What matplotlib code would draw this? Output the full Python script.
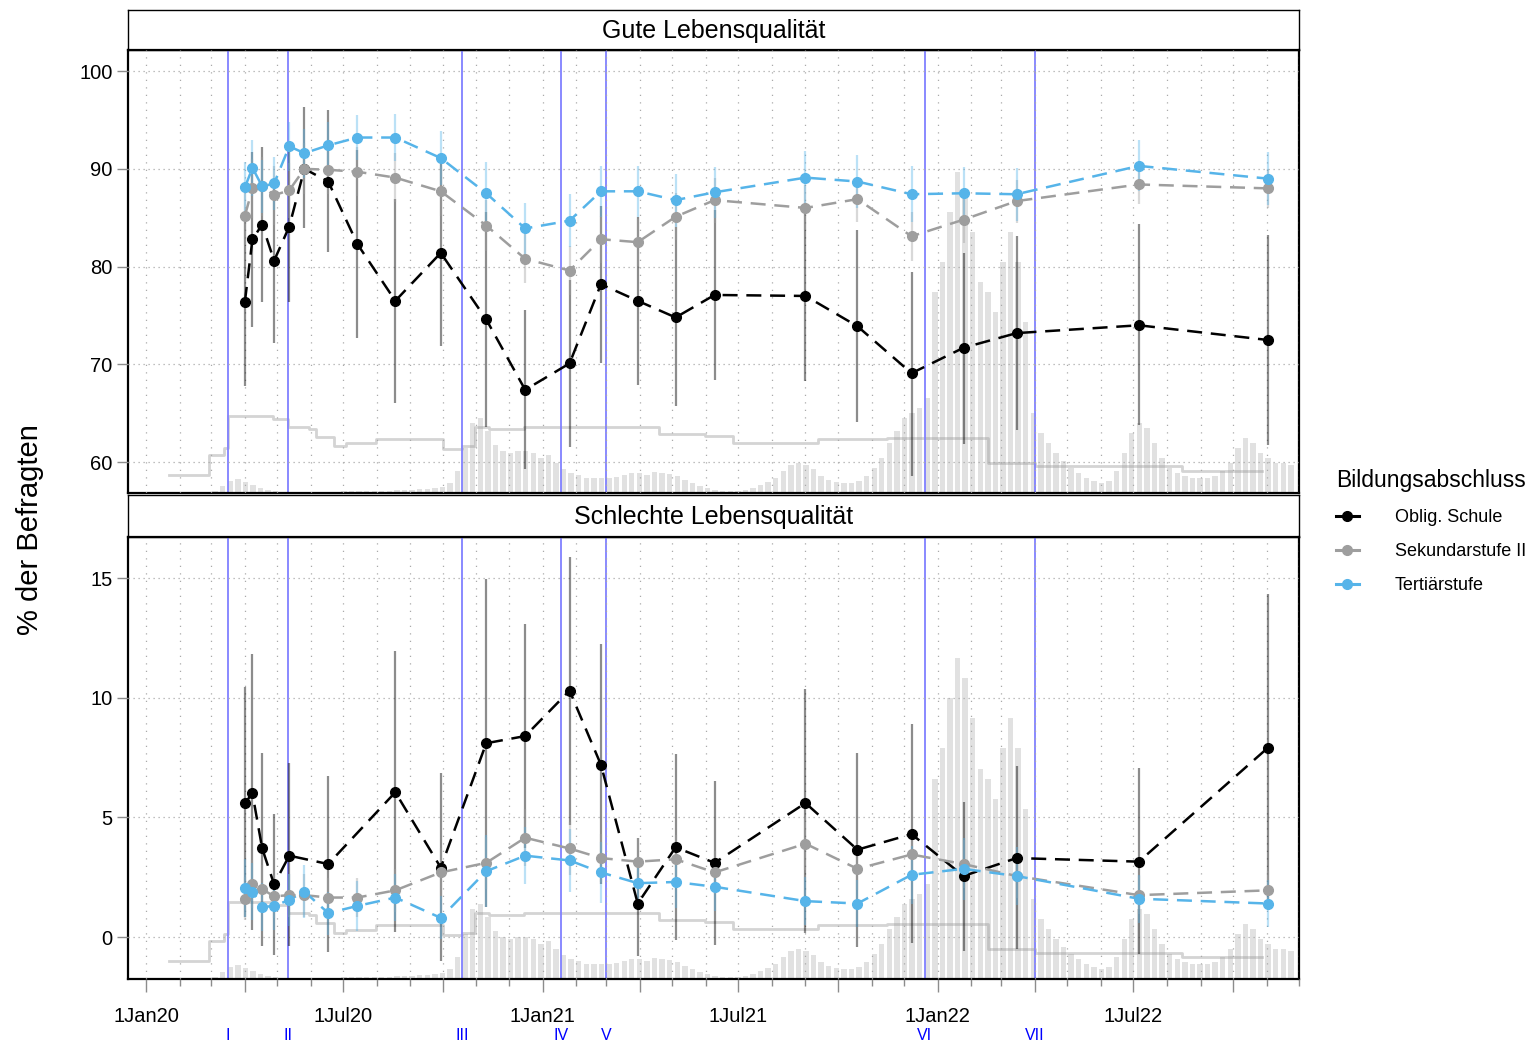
import numpy as np
import pandas as pd
import matplotlib
matplotlib.use('Agg')
import matplotlib.pyplot as plt
import matplotlib.dates as mdates
import matplotlib.transforms as mtransforms
from matplotlib.lines import Line2D
from matplotlib.legend_handler import HandlerLine2D

# Befragungszeitpunkte
termine = ['2020-04-01', '2020-04-08', '2020-04-17', '2020-04-28', '2020-05-12', '2020-05-26',
           '2020-06-17', '2020-07-14', '2020-08-18', '2020-09-29', '2020-11-10', '2020-12-16',
           '2021-01-26', '2021-02-24', '2021-03-30', '2021-05-04', '2021-06-09', '2021-09-01',
           '2021-10-19', '2021-12-08', '2022-01-25', '2022-03-15', '2022-07-06', '2022-11-02']

# Gute Lebensqualitaet (%)
gut_obl = [76.4, 82.8, 84.3, 80.6, 84.1, 90.0, 88.7, 82.3, 76.5, 81.4, 74.6, 67.4,
           70.1, 78.2, 76.5, 74.8, 77.1, 77.0, 73.9, 69.1, 71.7, 73.2, 74.0, 72.5]
gut_obl_lo = [67.8, 73.8, 76.4, 72.2, 76.4, 83.9, 81.5, 72.7, 66.1, 71.9, 63.6, 59.3,
              61.6, 70.1, 67.9, 65.7, 68.4, 68.3, 64.1, 58.6, 61.9, 63.3, 63.8, 61.8]
gut_obl_hi = [85.0, 91.7, 92.2, 89.0, 91.8, 96.3, 96.0, 91.9, 86.9, 90.9, 85.6, 75.6,
              78.6, 86.2, 85.1, 84.0, 85.8, 85.7, 83.7, 79.5, 81.4, 83.1, 84.4, 83.2]
gut_sek = [85.2, 88.0, 88.2, 87.3, 87.8, 90.0, 89.9, 89.7, 89.1, 87.7, 84.2, 80.8,
           79.6, 82.8, 82.5, 85.1, 86.8, 86.0, 86.9, 83.1, 84.8, 86.7, 88.4, 88.0]
gut_sek_err = [3.0, 3.0, 3.0, 3.0, 2.8, 2.6, 2.5, 2.5, 2.5, 2.5, 2.6, 2.5,
               2.5, 2.4, 2.4, 2.4, 2.3, 2.3, 2.3, 2.5, 2.4, 2.2, 2.0, 2.0]
gut_ter = [88.1, 90.1, 88.2, 88.5, 92.3, 91.6, 92.4, 93.2, 93.2, 91.1, 87.5, 83.9,
           84.7, 87.7, 87.7, 86.8, 87.6, 89.1, 88.7, 87.4, 87.5, 87.4, 90.3, 89.0]
gut_ter_err = [2.6, 2.85, 2.7, 2.7, 2.5, 2.5, 2.4, 2.3, 2.4, 2.8, 3.2, 2.6,
               2.7, 2.6, 2.6, 2.7, 2.6, 2.7, 2.7, 2.85, 2.7, 2.7, 2.6, 2.7]

# Schlechte Lebensqualitaet (%)
nan = np.nan
schlecht_obl = [5.6, 6.0, 3.7, 2.2, 3.4, nan, 3.05, nan, 6.05, 2.9, 8.1, 8.4,
                10.3, 7.2, 1.4, 3.75, 3.1, 5.6, 3.65, 4.3, 2.55, 3.3, 3.15, 7.9]
schlecht_obl_lo = [0.85, 0.29, -0.38, -0.75, -0.38, nan, -0.61, nan, 0.19, -1.0, 1.27, 3.7,
                   4.68, 2.2, -0.79, -0.13, -0.33, 0.18, -0.4, -0.24, -0.57, -0.52, -0.71, 1.4]
schlecht_obl_hi = [10.46, 11.81, 7.7, 5.13, 7.26, nan, 6.73, nan, 11.95, 6.84, 14.95, 13.07,
                   15.89, 12.23, 4.12, 7.65, 6.53, 10.35, 7.7, 8.89, 5.65, 7.15, 7.05, 14.33]
schlecht_sek = [1.6, 2.2, 2.0, 1.7, 1.75, 1.75, 1.65, 1.65, 1.95, 2.7, 3.1, 4.15,
                3.7, 3.3, 3.15, 3.25, 2.7, 3.9, 2.85, 3.45, 3.05, 2.55, 1.75, 1.95]
schlecht_sek_err = [0.9, 1.0, 1.0, 0.9, 0.9, 0.9, 0.8, 0.8, 0.9, 1.0, 1.1, 1.2,
                    1.1, 1.0, 1.0, 1.0, 0.9, 1.1, 0.9, 1.0, 1.0, 0.9, 0.8, 0.8]
schlecht_ter = [2.05, 1.9, 1.25, 1.3, 1.55, 1.9, 1.0, 1.3, 1.65, 0.8, 2.75, 3.4,
                3.2, 2.7, 2.25, 2.3, 2.1, 1.5, 1.4, 2.6, 2.85, 2.55, 1.6, 1.4]
schlecht_ter_err = [1.2, 1.2, 1.0, 1.0, 1.1, 1.1, 0.9, 1.05, 1.0, 0.9, 1.5, 1.2,
                    1.3, 1.27, 1.1, 1.1, 1.0, 1.0, 1.0, 1.2, 1.3, 1.2, 1.0, 1.0]

# Massnahmen-Phasen
phasen_daten = ['2020-03-16', '2020-05-11', '2020-10-19', '2021-01-18', '2021-03-01', '2021-12-20', '2022-04-01']
phasen_namen = ['I', 'II', 'III', 'IV', 'V', 'VI', 'VII']

# Stringency-Index (Stufen)
stringency_daten = ['2020-01-22', '2020-02-28', '2020-03-13', '2020-03-16', '2020-04-27', '2020-05-11',
                    '2020-05-30', '2020-06-06', '2020-06-22', '2020-07-03', '2020-07-31', '2020-10-01',
                    '2020-10-19', '2020-10-31', '2020-11-13', '2020-12-15', '2021-04-19', '2021-05-31',
                    '2021-06-26', '2021-09-13', '2021-11-15', '2022-02-17', '2022-04-01', '2022-08-15',
                    '2022-10-28']
stringency = [6.3, 28.6, 36.0, 71.9, 68.6, 58.9, 56.7, 47.8, 37.8, 41.1, 45.6, 34.7,
              37.8, 59.3, 57.1, 59.7, 51.9, 49.3, 41.3, 45.6, 46.9, 19.3, 15.6, 10.8, 10.8]

# Neue Faelle pro Tag (Hunderte, Wochenmittel)
faelle_2020 = [0.5, 2, 7, 12, 14, 11, 8, 5, 3, 2,
               1, 1, 0.5, 0.5, 0.5, 0.5, 0.5, 1,
               1.5, 1.5, 1.5, 1.5, 2, 2, 2, 2.5, 3, 3,
               3.5, 4, 4.5, 6, 10, 22, 45, 70, 75, 62, 48, 42, 40, 42, 42, 40, 35]
faelle_2021 = [38, 30, 24, 20, 18, 15, 15, 15, 15, 16, 18, 20, 20, 18, 21, 20, 19,
               17, 13, 10, 7, 5, 3, 2, 1.5, 2, 3, 5, 8, 11, 15, 22, 28, 30, 28,
               24, 17, 13, 11, 10, 10, 12, 17, 25, 35, 50, 62, 75, 80, 85, 95, 200]
faelle_2022 = [230, 280, 320, 300, 260, 210, 200, 180, 230, 260, 230, 170,
               80, 60, 50, 40, 32, 25, 20, 15, 12, 10, 12, 22, 40, 60,
               70, 65, 50, 35, 25, 20, 17, 15, 15, 15, 17, 22, 30,
               45, 55, 50, 40, 35, 30, 30, 28]
faelle_start = ['2020-02-24', '2021-01-04', '2022-01-03']

gruppen = ['Oblig. Schule', 'Sekundarstufe II', 'Tertiärstufe']
farben = ['#000000', '#9e9e9e', '#56B4E9']

W, H = 1539, 1043
plt.rcParams['font.family'] = ['Liberation Sans', 'DejaVu Sans']

t = pd.to_datetime(termine)
fig = plt.figure(figsize=(W / 100, H / 100), dpi=100)


def px_box(x0, y0, x1, y1):
    return [x0 / W, 1 - y1 / H, (x1 - x0) / W, (y1 - y0) / H]


def hintergrund(ax):
    # Fallzahlen und Stringency auf eigenen, unsichtbaren Achsen
    axb = ax.twinx()
    axb.set_zorder(0)
    ax.set_zorder(1)
    ax.patch.set_visible(False)
    for start, werte in zip(faelle_start, [faelle_2020, faelle_2021, faelle_2022]):
        wochen = pd.date_range(start, periods=len(werte), freq='7D')
        axb.bar(wochen, werte, width=5, align='edge', color='#e1e1e1', linewidth=0)
    axb.set_ylim(0, 441)
    axs = ax.twinx()
    axs.set_zorder(0.5)
    axs.step(pd.to_datetime(stringency_daten), stringency, where='post',
             color='#999999', alpha=0.42, lw=2)
    axs.set_ylim(-13.7, 476)
    for a in (axb, axs):
        a.axis('off')


def panel(box, titel, strip_box, serien, ylim, yticks):
    ax = fig.add_axes(px_box(*box))
    hintergrund(ax)
    for d in phasen_daten:
        ax.axvline(pd.Timestamp(d), color='#8080ff', lw=1.3, zorder=2)
    for (y, lo, hi), farbe in zip(serien, farben):
        y, lo, hi = np.array(y), np.array(lo), np.array(hi)
        m = ~np.isnan(y)
        alpha = 0.45 if farbe == '#000000' else 0.4
        ax.vlines(t[m], lo[m], hi[m], color=farbe, alpha=alpha, lw=1.6, zorder=3)
    for (y, lo, hi), farbe in zip(serien, farben):
        y = np.array(y)
        m = ~np.isnan(y)
        ax.plot(t[m], y[m], color=farbe, lw=1.8, dashes=(6, 3.5), zorder=4)
        ax.plot(t[m], y[m], 'o', color=farbe, ms=7, zorder=5)
    ax.set_ylim(*ylim)
    ax.set_yticks(yticks)
    ax.set_xlim(pd.Timestamp('2019-12-15'), pd.Timestamp('2022-12-01'))
    ax.xaxis.set_major_locator(mdates.MonthLocator(bymonth=[1, 4, 7, 10]))
    ax.xaxis.set_minor_locator(mdates.MonthLocator())
    ax.grid(True, which='both', axis='x', color='#aaaaaa', lw=0.9, ls=(0, (1, 5)))
    ax.grid(True, which='major', axis='y', color='#aaaaaa', lw=0.9, ls=(0, (1, 3)))
    ax.set_axisbelow(False)
    for s in ax.spines.values():
        s.set_linewidth(1.6)
        s.set_color('black')
    ax.tick_params(axis='y', length=8, width=1, color='#8c8c8c', pad=3, labelsize=14.5)
    st = fig.add_axes(px_box(*strip_box))
    st.set_xticks([])
    st.set_yticks([])
    for s in st.spines.values():
        s.set_linewidth(1.0)
    st.text(0.5, 0.47, titel, ha='center', va='center', fontsize=18, transform=st.transAxes)
    return ax


ax1 = panel((128, 50, 1299, 493), 'Gute Lebensqualität', (128, 10, 1299, 50),
            [(gut_obl, gut_obl_lo, gut_obl_hi),
             (gut_sek, np.array(gut_sek) - gut_sek_err, np.array(gut_sek) + gut_sek_err),
             (gut_ter, np.array(gut_ter) - gut_ter_err, np.array(gut_ter) + gut_ter_err)],
            (56.85, 102.15), [60, 70, 80, 90, 100])
ax2 = panel((128, 537, 1299, 979), 'Schlechte Lebensqualität', (128, 495, 1299, 537),
            [(schlecht_obl, schlecht_obl_lo, schlecht_obl_hi),
             (schlecht_sek, np.array(schlecht_sek) - schlecht_sek_err, np.array(schlecht_sek) + schlecht_sek_err),
             (schlecht_ter, np.array(schlecht_ter) - schlecht_ter_err, np.array(schlecht_ter) + schlecht_ter_err)],
            (-1.755, 16.72), [0, 5, 10, 15])

ax1.tick_params(axis='x', which='both', length=0, labelbottom=False)


def datum_label(x, pos=None):
    d = mdates.num2date(x)
    return f'1{d.strftime("%b")}{d.strftime("%y")}' if d.month in (1, 7) else ''


ax2.xaxis.set_major_formatter(plt.FuncFormatter(datum_label))
ax2.tick_params(axis='x', which='major', length=9.5, width=1, color='#8c8c8c', pad=11, labelsize=14.5)
ax2.tick_params(axis='x', which='minor', length=5, width=1, color='#8c8c8c')

trans = mtransforms.blended_transform_factory(ax2.transData, fig.transFigure)
for d, n in zip(phasen_daten, phasen_namen):
    ax2.text(pd.Timestamp(d), 1 - 1036 / H, n, color='#0000ff', fontsize=11.5,
             ha='center', va='center', transform=trans, clip_on=False)

fig.text(30 / W, 1 - 530 / H, '% der Befragten', rotation=90, ha='center', va='center', fontsize=21)


class RechterPunkt(HandlerLine2D):
    # Punkt am rechten Ende des Legendenschluessels
    def get_xdata(self, legend, xdescent, ydescent, width, height, fontsize):
        xdata = np.array([-xdescent, -xdescent + width])
        return xdata, np.array([-xdescent + width * 0.82])


handles = [Line2D([], [], color=f, lw=2.2, marker='o', ms=7) for f in farben]
fig.legend(handles, gruppen, title='Bildungsabschluss', loc='upper left',
           bbox_to_anchor=(1327 / W, 1 - 460 / H), frameon=False, borderpad=0,
           fontsize=13, title_fontsize=16.5,
           handlelength=1.25, handletextpad=2.0, labelspacing=0.95,
           alignment='left', handler_map={Line2D: RechterPunkt(numpoints=1)})

fig.savefig('out.png', dpi=100)
